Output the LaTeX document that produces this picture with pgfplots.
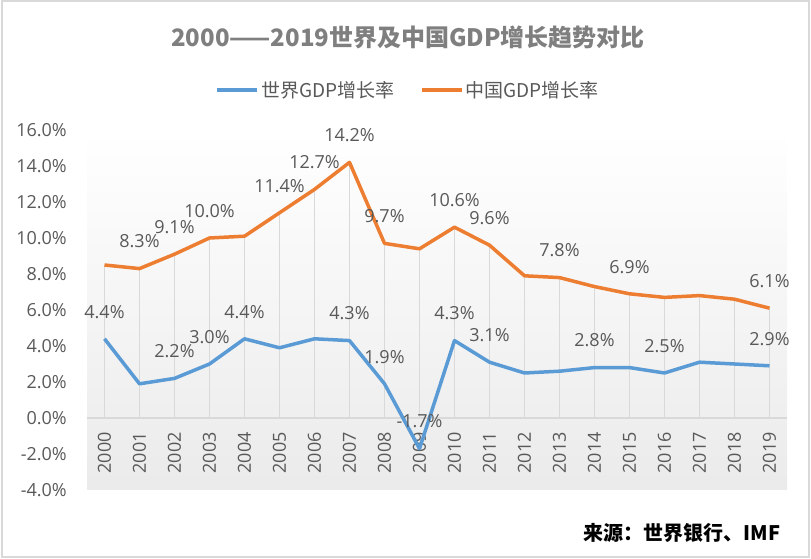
\documentclass[border=0pt]{standalone}
\usepackage{pgfplots}
\pgfplotsset{compat=1.18}
\usepackage{pgfplotstable}
\usepackage{fontspec}
\setmainfont{Open Sans}
\newfontfamily\cjk{Noto Sans CJK SC}
\definecolor{wblue}{HTML}{5B9BD5}
\definecolor{corange}{HTML}{ED7D31}
\definecolor{txt}{HTML}{595959}
\definecolor{ttl}{HTML}{7F7F7F}
\definecolor{grd}{HTML}{D9D9D9}

\pgfplotstableread{
x world china
0 4.4 8.5
1 1.9 8.3
2 2.2 9.1
3 3.0 10.0
4 4.4 10.1
5 3.9 11.4
6 4.4 12.7
7 4.3 14.2
8 1.9 9.7
9 -1.7 9.4
10 4.3 10.6
11 3.1 9.6
12 2.5 7.9
13 2.6 7.8
14 2.8 7.3
15 2.8 6.9
16 2.5 6.7
17 3.1 6.8
18 3.0 6.6
19 2.9 6.1
}\gdpdata

\begin{document}
\begin{tikzpicture}
\useasboundingbox (0,0) rectangle (811pt,559pt);
\draw[grd, line width=2pt] (1.5pt,2pt) rectangle (808.5pt,557.5pt);
\node[font=\cjk\bfseries\fontsize{24}{28}\selectfont, text=ttl] at (408pt,522pt) {2000——2019世界及中国GDP增长趋势对比};
\node[font=\cjk\bfseries\fontsize{20}{24}\selectfont, text=black, anchor=east] at (784pt,26pt) {来源：世界银行、IMF};
\begin{axis}[
  at={(87pt,69pt)}, anchor=south west,
  scale only axis, width=700pt, height=360pt,
  xmin=-0.5, xmax=19.5, ymin=-4, ymax=16,
  axis background/.style={top color=white, bottom color=black!8},
  axis line style={draw=none},
  tick style={draw=none}, major tick length=0pt,
  ytick={-4,-2,...,16},
  yticklabels={-4.0\%,-2.0\%,0.0\%,2.0\%,4.0\%,6.0\%,8.0\%,10.0\%,12.0\%,14.0\%,16.0\%},
  yticklabel style={font=\fontsize{18}{20}\selectfont, text=txt, anchor=east, inner sep=0pt, xshift=-20pt},
  xtick={0,...,19},
  xticklabels={2000,2001,2002,2003,2004,2005,2006,2007,2008,2009,2010,2011,2012,2013,2014,2015,2016,2017,2018,2019},
  xticklabel style={font=\fontsize{18}{20}\selectfont, text=txt, yshift=58pt, rotate=90, anchor=east, inner sep=0pt},
  legend style={at={(0.459,1.111)}, anchor=center, draw=none, fill=none,
    font=\cjk\fontsize{19}{22}\selectfont, text=txt, legend columns=2,
    /tikz/every even column/.append style={column sep=24pt}},
  legend image code/.code={\draw[#1] (0pt,0pt) -- (40pt,0pt);},
  clip=false,
]
\addplot[ycomb, grd, line width=1.5pt, no marks, forget plot] table[x=x, y=china] {\gdpdata};
\draw[grd, line width=1.5pt] (axis cs:-0.5,0) -- (axis cs:19.5,0);
\addplot[wblue, line width=3.5pt, line join=round, no marks] table[x=x, y=world] {\gdpdata};
\addlegendentry{世界GDP增长率}
\addplot[corange, line width=3.5pt, line join=round, no marks] table[x=x, y=china] {\gdpdata};
\addlegendentry{中国GDP增长率}
% data labels
\addplot[draw=none, no marks, forget plot, point meta=y,
  nodes near coords={\pgfmathprintnumber[fixed,precision=1,fixed zerofill,assume math mode=true]{\pgfplotspointmeta}\%},
  every node near coord/.append style={anchor=center, yshift=27pt, font=\fontsize{18}{20}\selectfont, text=txt}]
  coordinates {(1,8.3) (2,9.1) (3,10.0) (5,11.4) (6,12.7) (7,14.2) (8,9.7) (10,10.6) (11,9.6) (13,7.8) (15,6.9) (19,6.1)};
\addplot[draw=none, no marks, forget plot, point meta=y,
  nodes near coords={\pgfmathprintnumber[fixed,precision=1,fixed zerofill,assume math mode=true]{\pgfplotspointmeta}\%},
  every node near coord/.append style={anchor=center, yshift=27pt, font=\fontsize{18}{20}\selectfont, text=txt}]
  coordinates {(0,4.4) (2,2.2) (3,3.0) (4,4.4) (7,4.3) (8,1.9) (9,-1.7) (10,4.3) (11,3.1) (14,2.8) (16,2.5) (19,2.9)};
\end{axis}
\end{tikzpicture}
\end{document}
